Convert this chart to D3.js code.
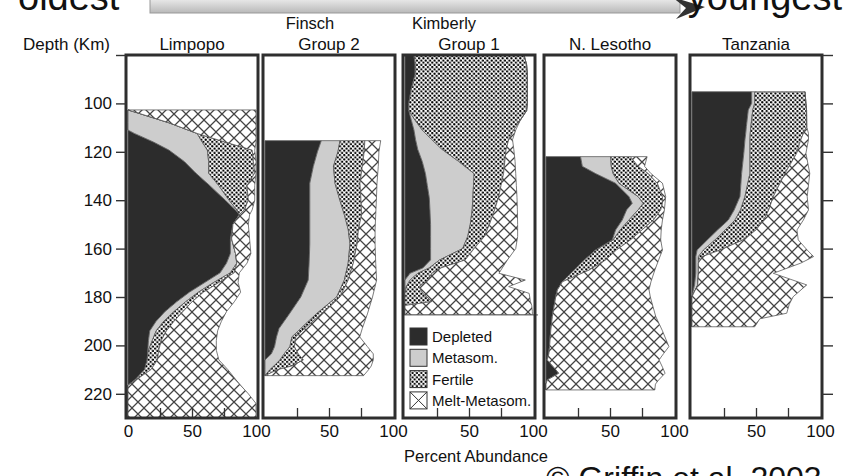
<!DOCTYPE html>
<html><head><meta charset="utf-8">
<script src="https://cdn.jsdelivr.net/npm/d3@7"></script>
<style>
body{margin:0;background:#fff}
svg{display:block}
text{font-family:"Liberation Sans",Arial,Helvetica,sans-serif;fill:#111}
</style>
</head><body>
<svg id="c" width="846" height="476"></svg>
<script>
// ---------------- data ----------------
const panelTitles = [["Limpopo"], ["Finsch", "Group 2"], ["Kimberly", "Group 1"], ["N. Lesotho"], ["Tanzania"]];
const lithologies = ["Depleted", "Metasom.", "Fertile", "Melt-Metasom."];
const depthTicks = [80, 100, 120, 140, 160, 180, 200, 220];
const abundanceTicks = [0, 50, 100];
const innerTicks = [25, 50, 75];

const limpopoDepth    = [102.7,104,108,111,112.4,116,119.3,124,128.8,134,140,144,146,150,156,162,166,170,174,178,182,186,190,194,198,202,206,210,214,216.5,220,224,230];
const limpopoDepleted = [0,0,0,0,5,20,32,44,53,64,76,84,87,82,80,80,77,72,60,48,38,29,22,17,16,15.5,15,13,6,0,0,0,0];
const limpopoMetasom  = [0,8,32,47,49,38,30,19,10,7,3,1,0,0,1,4,8,8,7,7,7,7,6,5,3,0.5,0,0,0,0,0,0,0];
const limpopoFertile  = [0,0,0,0,0,18,35,35,36,22,15,6,0,0,0,0,0,3,4,4,5,7,8,8,7,8,8,5,1,0,0,0,0];
const limpopoMelt     = [100,92,68,53,46,24,2,2,1,6,5,6,8,12,14,12,8,4,15,29,33,34,37,40,43,45,48,60,77,88,94,100,100];

const finschDepth    = [115.4,120,126,133,140,146,152,158,166,173,180,187,193,196.5,200.5,203.5,206,208.5,210,212.5];
const finschDepleted = [44,41,37.8,35,35,35,35,35,34.5,33.8,28,19,11,9,7.5,5,0,0,0,0];
const finschMetasom  = [14.6,16,15.7,19.7,23.5,27,30,31.4,30.5,28.2,28,21,17,12,12,10,11.7,7,3.9,0];
const finschFertile  = [19.4,20.5,22.5,19.5,16.5,13.5,8,5.6,4,3,2.6,4,3,3,3.5,11,18.3,14,6.1,0];
const finschMelt     = [12.4,11.5,12.5,13.3,12,11,13,14,17.5,22.2,25.4,36,45,50,57,58.6,54.6,62,71,77];

const kimberleyDepth    = [80,84,88,94,100,103,107,111,115,119,124,129,134,139,144,150,155,160,164.7,168,170.2,173,175.7,178.5,181.9,183.5,186,187.4];
const kimberleyDepleted = [7,8,8,5,3,3,5,7,8.3,10,13.5,16,17.5,19,19.5,20,20,20,20,14,4,0,0,0,0,0,0,0];
const kimberleyMetasom  = [0,0,0,0,0,0,3,6.5,12.7,19,28.5,38,36,34,33,31,29,25,7,5,6,4,1,0,0,0,0,0];
const kimberleyFertile  = [86,87,87.6,90.6,92.6,92,82,71.5,60,50,36,23,21.5,20,17.5,15,13,9,20,9,11,14,10,14,21,0,0,0];
const kimberleyMelt     = [0,0,0,0,0,0,0,1.5,3,6,8,9.5,12,14.5,17.8,22,26,32.5,33,48,52.4,76,70,83,77,99,99.5,99.5];

const lesothoDepth    = [122,126,129,133,138.5,141.3,144,148.2,152.3,156.4,160.6,164.7,168.9,173.7,177,180,188,194,200.5,203.3,206,209,211.5,214.3,216,218.4];
const lesothoDepleted = [27,28.4,38.8,54.4,64.8,67.4,63,59.6,54.4,51.8,38.8,30,22,12.8,9,7.6,5,3.7,2.8,2.3,1,6,10,1,0,0];
const lesothoMetasom  = [23.5,22.6,13.7,2.6,7.2,8.6,9,5.2,3.6,0.7,0,0,0,0,0,0,0,0,0,0,0,0,0,0,0,0];
const lesothoFertile  = [15.5,21,27.5,30,19,15,17.6,19.2,17,13.5,16.2,16.6,11.6,0,0,0,0,0,0,0,0,0,0,0,0,0];
const lesothoMelt     = [13,5,2,4,2.5,2,2.9,7,15,23.6,36,41.4,51.4,69.2,71.5,73.9,80.7,87.3,93.2,89.7,87.3,85,83,87,85.5,85];

const tanzaniaDepth    = [95.2,100,102.7,109.6,112.4,115,120.6,128.9,138.5,144,148.2,152.3,156.4,160.6,163.3,166,170.2,175,179.9,183,186.7,189,192.3];
const tanzaniaDepleted = [46.6,46.6,44,42.5,42,41.4,40.5,38.8,37.5,33,28.4,20,12,4,3,3,3,2,0,0,0,0,0];
const tanzaniaMetasom  = [2.4,2.4,3.5,3.5,3.5,3.9,4.8,6.5,3.9,5,5.2,6,6,5,2,2,2,2.5,0,0,0,0,0];
const tanzaniaFertile  = [39.3,40,42,43.6,41.5,39.7,36.5,27.4,22.1,22,22.4,24,22,13,3,0,0,0,0,0,0,0,0];
const tanzaniaMelt     = [0,0,0,0,4,6,7.2,19.3,26.5,31,31,32,43,68,87,80,58.5,85.1,79,76,74,53,49];

// ---------------- layout ----------------
const panelLeft = [128, 265, 405, 546, 692];
const panelW = 128;
const plotTop = 55, plotBottom = 418;
const firstLineShift = [0, -19, -25, 0, 0];
const fills = {"Depleted": "#2c2c2c", "Metasom.": "#cdcdcd", "Fertile": "url(#dots)", "Melt-Metasom.": "url(#hatch)"};

const panelSeries = [
  [limpopoDepth, [limpopoDepleted, limpopoMetasom, limpopoFertile, limpopoMelt]],
  [finschDepth, [finschDepleted, finschMetasom, finschFertile, finschMelt]],
  [kimberleyDepth, [kimberleyDepleted, kimberleyMetasom, kimberleyFertile, kimberleyMelt]],
  [lesothoDepth, [lesothoDepleted, lesothoMetasom, lesothoFertile, lesothoMelt]],
  [tanzaniaDepth, [tanzaniaDepleted, tanzaniaMetasom, tanzaniaFertile, tanzaniaMelt]]
];

const svg = d3.select("#c");
const defs = svg.append("defs");

// patterns
const dots = defs.append("pattern").attr("id", "dots").attr("patternUnits", "userSpaceOnUse").attr("width", 4.4).attr("height", 4.4);
dots.append("rect").attr("width", 4.4).attr("height", 4.4).attr("fill", "#fff");
dots.append("circle").attr("cx", 1.1).attr("cy", 1.1).attr("r", 1.15).attr("fill", "#000");
dots.append("circle").attr("cx", 3.3).attr("cy", 3.3).attr("r", 1.15).attr("fill", "#000");

const hatch = defs.append("pattern").attr("id", "hatch").attr("patternUnits", "userSpaceOnUse").attr("width", 12).attr("height", 12);
hatch.append("rect").attr("width", 12).attr("height", 12).attr("fill", "#fff");
hatch.append("path").attr("d", "M-3,-3L15,15M15,-3L-3,15").attr("stroke", "#444").attr("stroke-width", 1.25);

const grad = defs.append("linearGradient").attr("id", "arrowGrad").attr("x1", 0).attr("y1", 0).attr("x2", 0).attr("y2", 1);
grad.append("stop").attr("offset", "0%").attr("stop-color", "#f4f4f4");
grad.append("stop").attr("offset", "100%").attr("stop-color", "#b9b9b9");

const y = d3.scaleLinear().domain([80, 230]).range([plotTop, plotBottom]);

// top arrow + words
svg.append("rect").attr("x", 150).attr("y", -4).attr("width", 530).attr("height", 17)
  .attr("fill", "url(#arrowGrad)").attr("stroke", "#999").attr("stroke-width", 1);
svg.append("path").attr("d", "M672,-3 L705,7 L676,19 L686,8 Z").attr("fill", "#333");
svg.append("text").attr("x", 18).attr("y", 10).attr("font-size", 38).text("oldest");
svg.append("text").attr("x", 842).attr("y", 10).attr("text-anchor", "end").attr("font-size", 38).text("youngest");

// panels
panelSeries.forEach(([depths, vals], p) => {
  const px = panelLeft[p];
  const x = d3.scaleLinear().domain([0, 100]).range([px, px + panelW]);
  const rows = depths.map((d, i) => {
    const r = {depth: d};
    lithologies.forEach((k, j) => r[k] = vals[j][i]);
    return r;
  });
  const stacked = d3.stack().keys(lithologies)(rows);
  const area = d3.area()
    .y(d => y(d.data.depth))
    .x0(d => x(d[0]))
    .x1(d => x(d[1]));

  defs.append("clipPath").attr("id", "clip" + p)
    .append("rect").attr("x", px - 1).attr("y", plotTop).attr("width", panelW + 2).attr("height", plotBottom - plotTop);

  const g = svg.append("g").attr("clip-path", `url(#clip${p})`);
  g.selectAll("path.layer").data(stacked).join("path")
    .attr("class", "layer")
    .attr("d", area)
    .attr("fill", s => fills[s.key])
    .attr("stroke", "#5a5a5a")
    .attr("stroke-width", 0.8)
    .attr("stroke-linejoin", "round");

  // legend inside Kimberley panel
  if (p === 2) {
    const lg = svg.append("g");
    const ly = y(187.4);
    lg.append("rect").attr("x", px - 0.5).attr("y", ly).attr("width", panelW + 1).attr("height", plotBottom - ly).attr("fill", "#fff");
    lg.append("line").attr("x1", px - 1).attr("x2", px + panelW + 5).attr("y1", ly).attr("y2", ly)
      .attr("stroke", "#555").attr("stroke-width", 1);
    lithologies.forEach((k, i) => {
      const sy = 328 + i * 21.3;
      lg.append("rect").attr("x", px + 5).attr("y", sy).attr("width", 17).attr("height", 17)
        .attr("fill", k === "Melt-Metasom." ? "#fff" : fills[k]).attr("stroke", "#333").attr("stroke-width", 1);
      if (k === "Melt-Metasom.") {
        lg.append("path").attr("d", `M${px + 5},${sy}L${px + 22},${sy + 17}M${px + 22},${sy}L${px + 5},${sy + 17}`)
          .attr("stroke", "#333").attr("stroke-width", 1);
      }
      lg.append("text").attr("x", px + 27).attr("y", sy + 14).attr("font-size", 15).text(k);
    });
  }

  // inner bottom ticks
  const inner = svg.append("g").attr("transform", `translate(0,${plotBottom})`)
    .call(d3.axisTop(x).tickValues(innerTicks).tickSize(10).tickFormat(""));
  inner.select(".domain").remove();
  inner.selectAll("line").attr("stroke", "#333").attr("stroke-width", 1.3);

  // bottom labels
  const bx = svg.append("g").attr("transform", `translate(0,${plotBottom})`)
    .call(d3.axisBottom(x).tickValues(p === 0 ? abundanceTicks : abundanceTicks.slice(1)).tickSize(0).tickPadding(7));
  bx.select(".domain").remove();
  bx.selectAll("text").attr("font-size", 17).attr("font-family", "Liberation Sans, Arial, sans-serif").attr("fill", "#111");

  // frame
  svg.append("rect").attr("x", px - 2).attr("y", plotTop).attr("width", panelW + 4).attr("height", plotBottom - plotTop)
    .attr("fill", "none").attr("stroke", "#2e2e2e").attr("stroke-width", 3);

  // titles
  const t = panelTitles[p];
  if (t.length === 1) {
    svg.append("text").attr("x", px + panelW / 2).attr("y", 50).attr("text-anchor", "middle").attr("font-size", 17).text(t[0]);
  } else {
    svg.append("text").attr("x", px + panelW / 2 + firstLineShift[p]).attr("y", 29).attr("text-anchor", "middle").attr("font-size", 16.5).text(t[0]);
    svg.append("text").attr("x", px + panelW / 2).attr("y", 50).attr("text-anchor", "middle").attr("font-size", 17).text(t[1]);
  }
});

// left depth axis
const leftAxis = svg.append("g").attr("transform", `translate(${panelLeft[0] - 2},0)`)
  .call(d3.axisLeft(y).tickValues(depthTicks).tickSize(10).tickPadding(4).tickFormat(d => d === 80 ? "" : d));
leftAxis.select(".domain").remove();
leftAxis.selectAll("line").attr("stroke", "#333").attr("stroke-width", 1.4);
leftAxis.selectAll("text").attr("font-size", 17).attr("font-family", "Liberation Sans, Arial, sans-serif").attr("fill", "#111");

// right axis ticks on last panel
const rightAxis = svg.append("g").attr("transform", `translate(${panelLeft[4] + panelW + 2},0)`)
  .call(d3.axisRight(y).tickValues(depthTicks).tickSize(11).tickFormat(""));
rightAxis.select(".domain").remove();
rightAxis.selectAll("line").attr("stroke", "#333").attr("stroke-width", 1.4);

svg.append("text").attr("x", 110).attr("y", 50).attr("text-anchor", "end").attr("font-size", 17).text("Depth (Km)");
svg.append("text").attr("x", 476).attr("y", 462).attr("text-anchor", "middle").attr("font-size", 16.5).text("Percent Abundance");
svg.append("text").attr("x", 546).attr("y", 489).attr("font-size", 32).text("© Griffin et al. 2003");
</script>
</body></html>
